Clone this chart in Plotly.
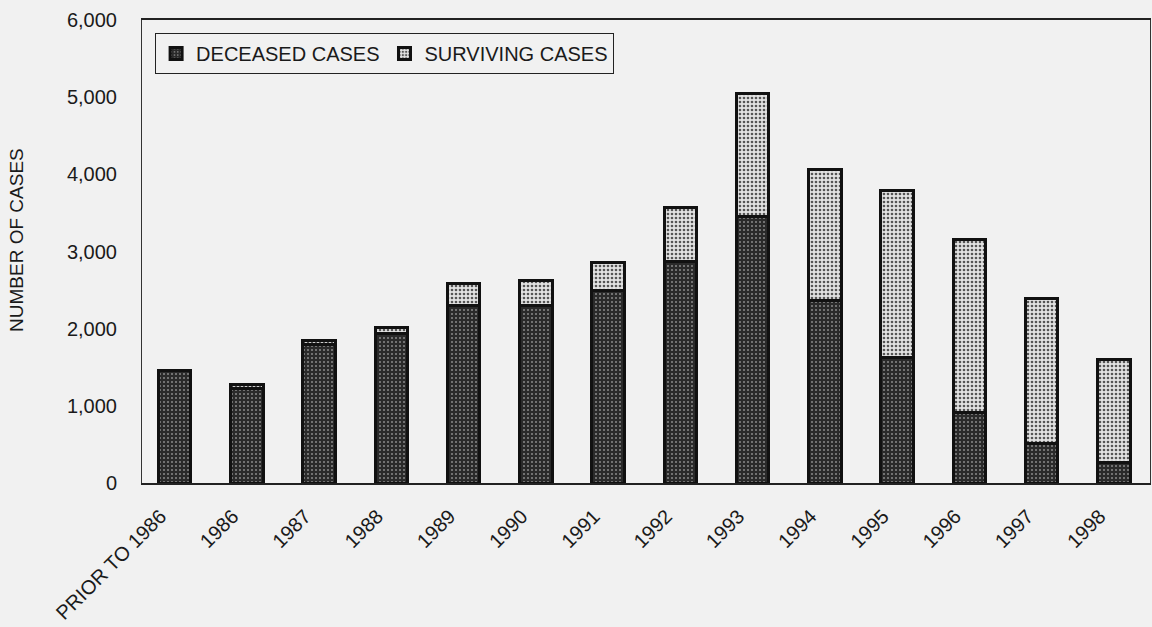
import plotly.graph_objects as go

categories = ["PRIOR TO 1986", "1986", "1987", "1988", "1989", "1990", "1991",
              "1992", "1993", "1994", "1995", "1996", "1997", "1998"]
deceased = [1460, 1230, 1795, 1940, 2305, 2305, 2495, 2865, 3460, 2360, 1625, 920, 510, 270]
surviving = [0, 50, 50, 80, 275, 325, 360, 700, 1590, 1700, 2165, 2230, 1880, 1335]
y_ticks = [0, 1000, 2000, 3000, 4000, 5000, 6000]

FONT = "Arial, Liberation Sans, sans-serif"
BG = "#f1f1f1"

fig = go.Figure()
fig.add_trace(go.Bar(
    x=categories, y=deceased, name="DECEASED CASES",
    marker=dict(color="#2a2a2a",
                line=dict(color="#111111", width=3),
                pattern=dict(shape=".", fgcolor="#8a8a8a", bgcolor="#2a2a2a",
                             size=4, solidity=0.2, fillmode="replace")),
))
fig.add_trace(go.Bar(
    x=categories, y=surviving, name="SURVIVING CASES",
    marker=dict(color="#dcdcdc",
                line=dict(color="#111111", width=3),
                pattern=dict(shape=".", fgcolor="#555555", bgcolor="#e2e2e2",
                             size=4, solidity=0.35, fillmode="replace")),
))

fig.update_layout(
    width=1152, height=627,
    barmode="stack", bargap=0.55,
    paper_bgcolor=BG, plot_bgcolor=BG,
    margin=dict(l=142, r=2, t=20, b=144),
    font=dict(family=FONT, size=20, color="#1a1a1a"),
    showlegend=True,
    legend=dict(orientation="h", x=0.013, y=0.972, xanchor="left", yanchor="top",
                bgcolor=BG, bordercolor="#222222", borderwidth=1,
                font=dict(family=FONT, size=20, color="#1a1a1a"),
                traceorder="normal", itemwidth=30),
    xaxis=dict(range=[-0.45, 13.5], tickangle=-45, showgrid=False,
               showline=True, mirror=True, linecolor="#222222", linewidth=1.5,
               ticks="", tickfont=dict(size=20),
               ticklabelstandoff=12, ticklabelshift=-14),
    yaxis=dict(range=[0, 6000], tickvals=y_ticks, tickformat=",d", showgrid=False,
               zeroline=False, showline=True, mirror=True, linecolor="#333333",
               linewidth=1, ticks="", ticklabelstandoff=20, tickfont=dict(size=20)),
    annotations=[dict(text="NUMBER OF CASES", textangle=-90, xref="paper", yref="paper",
                      x=-0.124, y=0.525, xanchor="center", yanchor="middle",
                      showarrow=False, font=dict(family=FONT, size=19, color="#1a1a1a"))],
)

fig.write_html("out.html", config={"displayModeBar": False},
               post_script="document.body.style.margin='0';document.body.style.overflow='hidden';document.body.style.background='%s';" % BG)
